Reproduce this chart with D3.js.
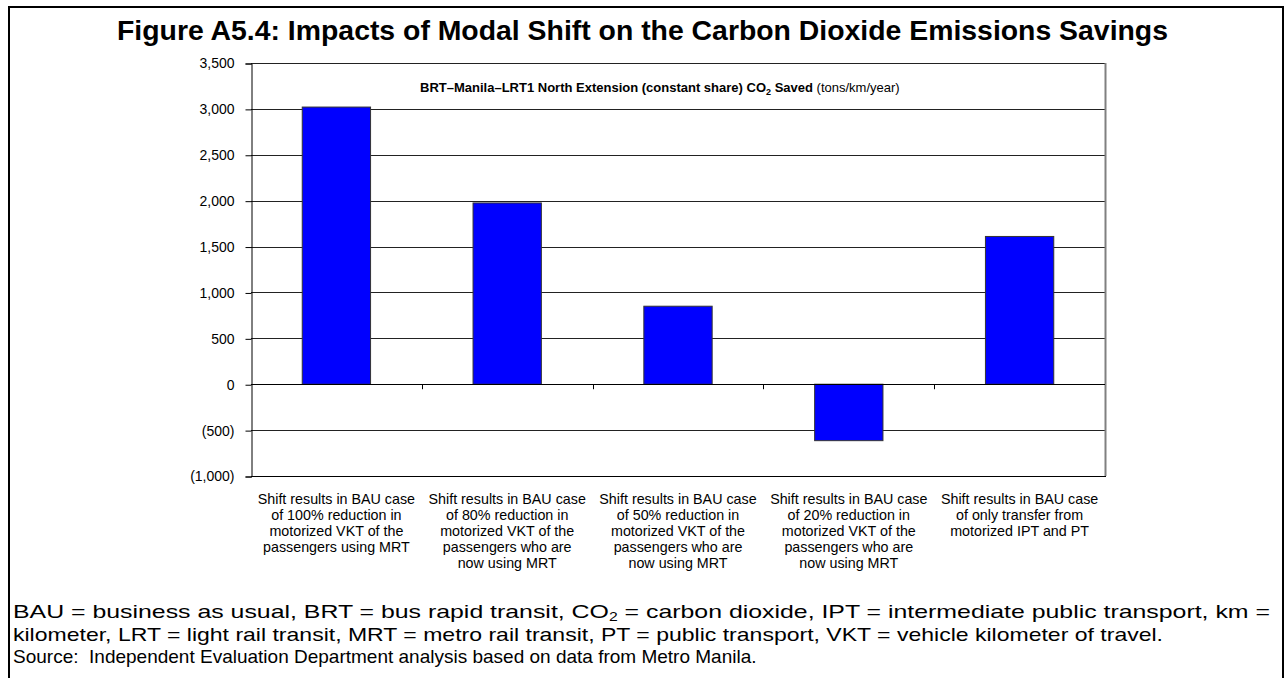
<!DOCTYPE html>
<html>
<head>
<meta charset="utf-8">
<script src="https://cdn.jsdelivr.net/npm/d3@7"></script>
<style>
  body { margin: 0; background: #fff; }
  svg { display: block; font-family: Arial, "Liberation Sans", sans-serif; }
</style>
</head>
<body>
<svg id="chart" width="1285" height="678"></svg>
<script>
const categories = [
  ['Shift results in BAU case', 'of 100% reduction in', 'motorized VKT of the', 'passengers using MRT'],
  ['Shift results in BAU case', 'of 80% reduction in', 'motorized VKT of the', 'passengers who are', 'now using MRT'],
  ['Shift results in BAU case', 'of 50% reduction in', 'motorized VKT of the', 'passengers who are', 'now using MRT'],
  ['Shift results in BAU case', 'of 20% reduction in', 'motorized VKT of the', 'passengers who are', 'now using MRT'],
  ['Shift results in BAU case', 'of only transfer from', 'motorized IPT and PT']
];
const co2Saved = [3020, 1975, 850, -615, 1610];
const yTicks = [-1000, -500, 0, 500, 1000, 1500, 2000, 2500, 3000, 3500];

const svg = d3.select('#chart');

// outer frame
svg.append('rect')
  .attr('x', 9).attr('y', 7)
  .attr('width', 1274).attr('height', 680)
  .attr('fill', 'none').attr('stroke', '#000').attr('stroke-width', 2);

svg.append('text')
  .attr('x', 117).attr('y', 40)
  .attr('font-size', 27.5).attr('font-weight', 'bold')
  .attr('textLength', 1051).attr('lengthAdjust', 'spacingAndGlyphs')
  .text('Figure A5.4: Impacts of Modal Shift on the Carbon Dioxide Emissions Savings');

const plotL = 251, plotR = 1105, plotT = 63, plotB = 476;

const x = d3.scaleBand()
  .domain(d3.range(categories.length))
  .range([plotL, plotR])
  .paddingInner(0.6)
  .paddingOuter(0.3);
const step = x.step();

const y = d3.scaleLinear().domain([-1000, 3500]).range([plotB, plotT]);
const fmt = v => v < 0 ? '(' + d3.format(',')(-v) + ')' : d3.format(',')(v);

// gridlines
svg.append('g').selectAll('line')
  .data(yTicks.filter(d => d > -1000))
  .enter().append('line')
  .attr('x1', plotL).attr('x2', plotR)
  .attr('y1', d => Math.round(y(d)) + 0.5).attr('y2', d => Math.round(y(d)) + 0.5)
  .attr('stroke', '#222').attr('stroke-width', 1);

// plot area border (right & bottom)
svg.append('line').attr('x1', plotR + 0.5).attr('x2', plotR + 0.5)
  .attr('y1', plotT).attr('y2', plotB).attr('stroke', '#808080').attr('stroke-width', 2);
svg.append('line').attr('x1', plotL).attr('x2', plotR + 1)
  .attr('y1', plotB + 0.5).attr('y2', plotB + 0.5).attr('stroke', '#000').attr('stroke-width', 1);

// y axis
const yAxis = d3.axisLeft(y).tickValues(yTicks).tickFormat(fmt).tickSize(6).tickPadding(11);
const gy = svg.append('g').attr('transform', `translate(${plotL + 0.5},0.5)`).call(yAxis);
gy.select('.domain').attr('stroke', '#000');
gy.selectAll('.tick line').attr('stroke', '#000');
gy.selectAll('.tick text').attr('font-size', 14).attr('font-family', 'Arial, "Liberation Sans", sans-serif').attr('fill', '#000');

// bars
svg.append('g').selectAll('rect')
  .data(co2Saved)
  .enter().append('rect')
  .attr('x', (d, i) => x(i))
  .attr('width', x.bandwidth())
  .attr('y', d => y(Math.max(0, d)))
  .attr('height', d => Math.abs(y(d) - y(0)))
  .attr('fill', '#0000ff')
  .attr('stroke', '#333').attr('stroke-width', 1);

// category axis at zero
svg.append('line')
  .attr('x1', plotL).attr('x2', plotR)
  .attr('y1', Math.round(y(0)) + 0.5).attr('y2', Math.round(y(0)) + 0.5)
  .attr('stroke', '#000');
svg.append('g').selectAll('line')
  .data(d3.range(1, categories.length))
  .enter().append('line')
  .attr('x1', i => Math.round(plotL + i * step) + 0.5)
  .attr('x2', i => Math.round(plotL + i * step) + 0.5)
  .attr('y1', y(0)).attr('y2', y(0) + 5)
  .attr('stroke', '#000');

// category labels
const lab = svg.append('g').selectAll('text')
  .data(categories)
  .enter().append('text')
  .attr('x', (d, i) => x(i) + x.bandwidth() / 2)
  .attr('y', 504)
  .attr('text-anchor', 'middle')
  .attr('font-size', 14.3);
lab.selectAll('tspan')
  .data(d => d)
  .enter().append('tspan')
  .attr('x', function () { return d3.select(this.parentNode).attr('x'); })
  .attr('dy', (d, i) => i === 0 ? 0 : 16)
  .text(d => d);

// chart inner title
const t = svg.append('text').attr('x', 420).attr('y', 92).attr('font-size', 13);
t.append('tspan').attr('font-weight', 'bold').text('BRT\u2013Manila\u2013LRT1 North Extension (constant share) CO');
t.append('tspan').attr('font-weight', 'bold').attr('font-size', 9).attr('dy', 3).text('2');
t.append('tspan').attr('font-weight', 'bold').attr('dy', -3).text(' Saved');
t.append('tspan').text(' (tons/km/year)');

// footnote
const notes = svg.append('g').attr('font-size', 19);
const n1 = notes.append('text').attr('x', 13).attr('y', 618)
  .attr('textLength', 1257).attr('lengthAdjust', 'spacingAndGlyphs');
n1.append('tspan').text('BAU = business as usual, BRT = bus rapid transit, CO');
n1.append('tspan').attr('font-size', 12).attr('dy', 3).text('2');
n1.append('tspan').attr('dy', -3).text(' = carbon dioxide, IPT = intermediate public transport, km =');
notes.append('text').attr('x', 13).attr('y', 641)
  .attr('textLength', 1150).attr('lengthAdjust', 'spacingAndGlyphs')
  .text('kilometer, LRT = light rail transit, MRT = metro rail transit, PT = public transport, VKT = vehicle kilometer of travel.');
notes.append('text').attr('x', 13).attr('y', 663).attr('xml:space', 'preserve')
  .text('Source:  Independent Evaluation Department analysis based on data from Metro Manila.');
</script>
</body>
</html>
